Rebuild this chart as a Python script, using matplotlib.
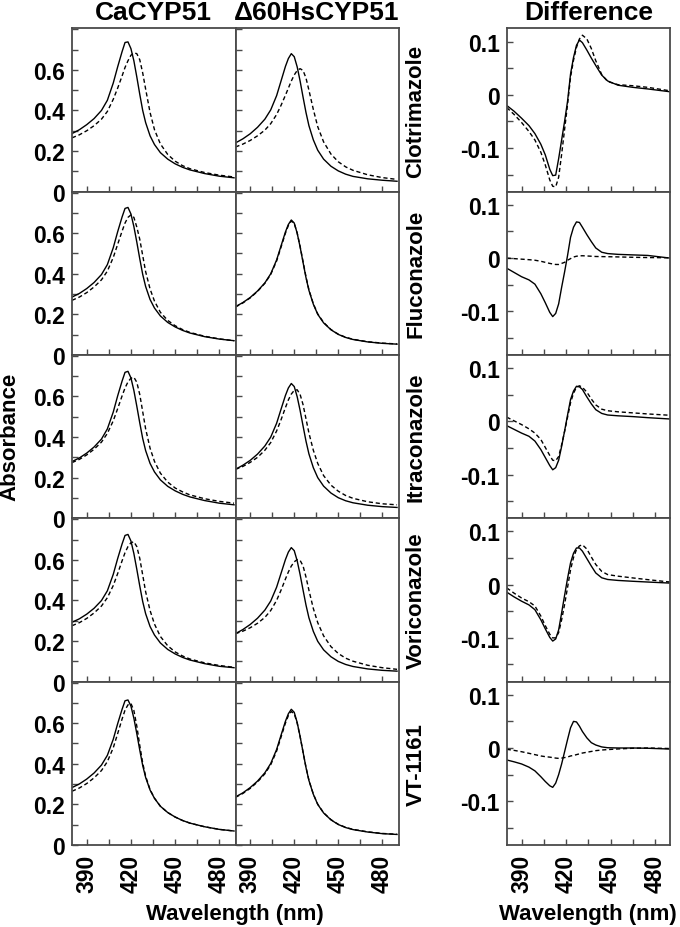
import matplotlib
matplotlib.use('Agg')
import matplotlib.pyplot as plt
from matplotlib.ticker import MultipleLocator

plt.rcParams['font.family'] = ['Liberation Sans', 'DejaVu Sans']
plt.rcParams['font.weight'] = 'bold'
plt.rcParams['axes.unicode_minus'] = False

azole = ['Clotrimazole', 'Fluconazole', 'Itraconazole', 'Voriconazole', 'VT-1161']
kolumny = ['CaCYP51', '\u039460HsCYP51', 'Difference']

# widma absorpcji (nm)
wl = [380, 385, 390, 395, 400, 404, 408, 411, 414, 416, 418, 420, 422, 424,
      426, 428, 430, 433, 436, 440, 445, 450, 455, 460, 470, 480, 490]

# CaCYP51 bez azolu (linia ciagla)
ca_free = [
    [0.286, 0.305, 0.33, 0.36, 0.40, 0.45, 0.535, 0.615, 0.69, 0.735, 0.738, 0.705, 0.645, 0.565, 0.48, 0.40, 0.34, 0.275, 0.232, 0.192, 0.16, 0.137, 0.12, 0.107, 0.089, 0.076, 0.068],
    [0.285, 0.303, 0.327, 0.357, 0.396, 0.445, 0.528, 0.607, 0.68, 0.722, 0.727, 0.695, 0.633, 0.556, 0.474, 0.397, 0.337, 0.273, 0.231, 0.192, 0.16, 0.138, 0.121, 0.108, 0.09, 0.078, 0.07],
    [0.279, 0.297, 0.321, 0.351, 0.39, 0.44, 0.523, 0.603, 0.676, 0.719, 0.724, 0.692, 0.63, 0.552, 0.47, 0.393, 0.333, 0.27, 0.228, 0.189, 0.157, 0.135, 0.118, 0.105, 0.087, 0.074, 0.066],
    [0.292, 0.309, 0.332, 0.361, 0.399, 0.447, 0.528, 0.606, 0.678, 0.72, 0.725, 0.693, 0.631, 0.553, 0.471, 0.394, 0.334, 0.271, 0.229, 0.19, 0.158, 0.136, 0.119, 0.106, 0.088, 0.075, 0.068],
    [0.282, 0.3, 0.324, 0.354, 0.393, 0.441, 0.52, 0.597, 0.668, 0.71, 0.714, 0.684, 0.624, 0.548, 0.467, 0.391, 0.332, 0.27, 0.229, 0.19, 0.159, 0.137, 0.12, 0.107, 0.089, 0.076, 0.068],
]
# CaCYP51 z azolem (linia przerywana)
ca_bound = [
    [0.265, 0.28, 0.30, 0.325, 0.357, 0.395, 0.455, 0.51, 0.57, 0.612, 0.645, 0.672, 0.684, 0.68, 0.65, 0.585, 0.505, 0.39, 0.305, 0.235, 0.183, 0.15, 0.128, 0.113, 0.094, 0.081, 0.072],
    [0.269, 0.285, 0.307, 0.335, 0.37, 0.413, 0.48, 0.545, 0.61, 0.65, 0.678, 0.69, 0.678, 0.63, 0.57, 0.49, 0.41, 0.325, 0.265, 0.21, 0.17, 0.144, 0.125, 0.111, 0.092, 0.079, 0.07],
    [0.274, 0.29, 0.312, 0.34, 0.375, 0.418, 0.48, 0.54, 0.603, 0.642, 0.672, 0.69, 0.695, 0.67, 0.61, 0.525, 0.44, 0.345, 0.28, 0.222, 0.178, 0.149, 0.13, 0.115, 0.096, 0.083, 0.074],
    [0.275, 0.29, 0.311, 0.338, 0.372, 0.413, 0.473, 0.532, 0.595, 0.635, 0.665, 0.684, 0.689, 0.665, 0.607, 0.525, 0.442, 0.35, 0.283, 0.222, 0.176, 0.146, 0.126, 0.111, 0.092, 0.079, 0.07],
    [0.264, 0.28, 0.302, 0.33, 0.366, 0.41, 0.478, 0.548, 0.62, 0.664, 0.69, 0.697, 0.662, 0.585, 0.49, 0.403, 0.338, 0.272, 0.23, 0.19, 0.159, 0.137, 0.12, 0.107, 0.089, 0.076, 0.068],
]
# d60HsCYP51 bez azolu
hs_free = [
    [0.24, 0.26, 0.285, 0.317, 0.357, 0.403, 0.473, 0.545, 0.617, 0.656, 0.68, 0.665, 0.615, 0.545, 0.466, 0.39, 0.325, 0.255, 0.204, 0.16, 0.125, 0.102, 0.086, 0.075, 0.063, 0.056, 0.051],
    [0.238, 0.258, 0.283, 0.315, 0.355, 0.40, 0.468, 0.537, 0.606, 0.643, 0.665, 0.65, 0.60, 0.532, 0.456, 0.381, 0.318, 0.25, 0.2, 0.158, 0.124, 0.101, 0.086, 0.076, 0.064, 0.057, 0.053],
    [0.241, 0.261, 0.285, 0.316, 0.356, 0.40, 0.468, 0.537, 0.605, 0.642, 0.664, 0.649, 0.599, 0.531, 0.455, 0.38, 0.317, 0.249, 0.2, 0.158, 0.124, 0.101, 0.086, 0.076, 0.064, 0.057, 0.053],
    [0.236, 0.256, 0.281, 0.312, 0.352, 0.397, 0.465, 0.533, 0.601, 0.638, 0.66, 0.645, 0.595, 0.527, 0.451, 0.377, 0.314, 0.247, 0.198, 0.156, 0.122, 0.099, 0.084, 0.074, 0.062, 0.055, 0.051],
    [0.236, 0.256, 0.282, 0.314, 0.355, 0.401, 0.47, 0.54, 0.609, 0.646, 0.668, 0.653, 0.603, 0.534, 0.457, 0.381, 0.317, 0.249, 0.199, 0.157, 0.123, 0.1, 0.085, 0.075, 0.063, 0.055, 0.051],
]
# d60HsCYP51 z azolem
hs_bound = [
    [0.22, 0.234, 0.252, 0.275, 0.303, 0.335, 0.38, 0.425, 0.475, 0.51, 0.545, 0.575, 0.597, 0.606, 0.597, 0.56, 0.5, 0.405, 0.32, 0.245, 0.185, 0.147, 0.122, 0.105, 0.083, 0.069, 0.06],
    [0.236, 0.256, 0.281, 0.313, 0.353, 0.397, 0.463, 0.531, 0.6, 0.638, 0.66, 0.648, 0.601, 0.535, 0.46, 0.385, 0.321, 0.252, 0.202, 0.16, 0.125, 0.102, 0.087, 0.077, 0.065, 0.058, 0.054],
    [0.241, 0.255, 0.275, 0.30, 0.335, 0.373, 0.43, 0.485, 0.545, 0.583, 0.612, 0.63, 0.633, 0.61, 0.56, 0.49, 0.42, 0.335, 0.27, 0.21, 0.163, 0.133, 0.112, 0.098, 0.081, 0.071, 0.066],
    [0.236, 0.248, 0.265, 0.287, 0.316, 0.35, 0.40, 0.45, 0.505, 0.54, 0.569, 0.59, 0.601, 0.597, 0.57, 0.515, 0.45, 0.36, 0.29, 0.225, 0.172, 0.138, 0.115, 0.1, 0.08, 0.068, 0.06],
    [0.234, 0.253, 0.278, 0.31, 0.35, 0.395, 0.462, 0.531, 0.6, 0.637, 0.657, 0.646, 0.6, 0.533, 0.457, 0.382, 0.318, 0.25, 0.2, 0.158, 0.124, 0.101, 0.086, 0.076, 0.064, 0.056, 0.052],
]

# widma roznicowe
wl_roz = [380, 385, 390, 395, 399, 403, 406, 409, 411, 413, 415, 417, 419, 421,
          423, 425, 427, 429, 431, 434, 437, 440, 444, 448, 455, 465, 475, 490]
roz_ca = [
    [-0.02, -0.031, -0.044, -0.058, -0.073, -0.093, -0.113, -0.14, -0.152, -0.151, -0.12, -0.085, -0.05, -0.012, 0.039, 0.07, 0.093, 0.103, 0.098, 0.084, 0.069, 0.055, 0.037, 0.026, 0.018, 0.014, 0.011, 0.0057],
    [-0.019, -0.027, -0.035, -0.041, -0.049, -0.067, -0.084, -0.102, -0.11, -0.104, -0.086, -0.055, -0.026, 0.005, 0.039, 0.058, 0.068, 0.067, 0.058, 0.044, 0.031, 0.019, 0.011, 0.0085, 0.007, 0.006, 0.005, 0.0],
    [-0.008, -0.015, -0.022, -0.028, -0.037, -0.053, -0.068, -0.083, -0.091, -0.087, -0.073, -0.047, -0.018, 0.012, 0.041, 0.057, 0.066, 0.065, 0.06, 0.046, 0.033, 0.022, 0.015, 0.012, 0.0105, 0.009, 0.007, 0.0045],
    [-0.014, -0.023, -0.031, -0.038, -0.047, -0.066, -0.083, -0.099, -0.106, -0.102, -0.085, -0.053, -0.02, 0.012, 0.041, 0.059, 0.069, 0.069, 0.063, 0.049, 0.035, 0.022, 0.013, 0.0098, 0.008, 0.0064, 0.005, 0.003],
    [-0.0225, -0.026, -0.03, -0.036, -0.043, -0.054, -0.063, -0.071, -0.074, -0.066, -0.05, -0.03, -0.007, 0.016, 0.038, 0.05, 0.049, 0.041, 0.031, 0.019, 0.01, 0.0056, 0.002, 0.0005, 0.0, 0.0, -0.0005, -0.002],
]
roz_hs = [
    [-0.024, -0.037, -0.052, -0.069, -0.085, -0.108, -0.132, -0.16, -0.172, -0.173, -0.155, -0.112, -0.065, -0.018, 0.033, 0.065, 0.089, 0.105, 0.112, 0.105, 0.087, 0.064, 0.038, 0.025, 0.019, 0.017, 0.014, 0.0075],
    [0.0, -0.001, -0.002, -0.003, -0.004, -0.006, -0.008, -0.01, -0.011, -0.012, -0.012, -0.01, -0.008, -0.004, -0.001, 0.002, 0.0035, 0.0042, 0.0044, 0.004, 0.0035, 0.003, 0.0028, 0.0026, 0.0022, 0.0015, 0.001, 0.0006],
    [0.008, 0.001, -0.006, -0.014, -0.022, -0.034, -0.049, -0.064, -0.073, -0.074, -0.066, -0.044, -0.019, 0.008, 0.035, 0.053, 0.064, 0.067, 0.064, 0.055, 0.042, 0.031, 0.023, 0.02, 0.018, 0.016, 0.014, 0.0115],
    [-0.006, -0.016, -0.025, -0.032, -0.04, -0.059, -0.077, -0.093, -0.1, -0.1, -0.09, -0.066, -0.037, -0.005, 0.028, 0.051, 0.066, 0.073, 0.075, 0.067, 0.052, 0.038, 0.025, 0.019, 0.016, 0.0127, 0.0095, 0.005],
    [-0.0025, -0.0045, -0.007, -0.01, -0.0125, -0.015, -0.0163, -0.0172, -0.018, -0.019, -0.0195, -0.019, -0.018, -0.017, -0.015, -0.014, -0.0125, -0.011, -0.0095, -0.008, -0.0065, -0.005, -0.0038, -0.003, -0.0018, -0.0005, 0.0, -0.001],
]

W, H = 680, 928
fig = plt.figure(figsize=(W / 100, H / 100), dpi=100)

top = 29.3
wys = 163.3
kol_x = [(72, 235.5), (235.5, 398.5), (506.7, 670)]
szary = '#4a4a4a'
przer = (0, (3, 2))


def ustaw(ax, dol):
    for s in ax.spines.values():
        s.set_color(szary)
        s.set_linewidth(1.3)
    ax.tick_params(which='both', direction='in', length=4, width=1,
                   color=szary, labelsize=16.5, pad=5)
    ax.set_xticks([390, 420, 450, 480])
    ax.xaxis.set_minor_locator(MultipleLocator(15))
    if dol:
        ax.set_xticklabels(['390', '420', '450', '480'], rotation=90,
                           fontweight='bold')
        ax.tick_params(axis='x', pad=6.5)
    else:
        ax.set_xticklabels([])


for i in range(5):
    dolna = (i == 4)
    y0 = H - (top + wys * (i + 1))
    osie = []
    for k, (x0, x1) in enumerate(kol_x):
        ax = fig.add_axes([x0 / W, y0 / H, (x1 - x0) / W, wys / H])
        osie.append(ax)

    a1, a2, a3 = osie
    a1.plot(wl, ca_free[i], color='black', lw=1.0)
    a1.plot(wl, ca_bound[i], color='black', lw=1.0, linestyle=przer)
    a2.plot(wl, hs_free[i], color='black', lw=1.0)
    a2.plot(wl, hs_bound[i], color='black', lw=1.0, linestyle=przer)
    a3.plot(wl_roz, roz_ca[i], color='black', lw=1.0)
    a3.plot(wl_roz, roz_hs[i], color='black', lw=1.0, linestyle=przer)

    for ax in (a1, a2):
        ax.set_xlim(380, 491)
        ax.set_ylim(0, 0.805)
        ustaw(ax, dolna)
        ax.set_yticks([0, 0.2, 0.4, 0.6])
        ax.yaxis.set_minor_locator(MultipleLocator(0.1))
    a1.set_yticklabels(['0', '0.2', '0.4', '0.6'], fontweight='bold')
    a2.set_yticklabels([])

    a3.set_xlim(380, 490)
    a3.set_ylim(-0.182, 0.125)
    ustaw(a3, dolna)
    a3.set_yticks([-0.1, 0, 0.1])
    a3.yaxis.set_minor_locator(MultipleLocator(0.05))
    a3.set_yticklabels(['-0.1', '0', '0.1'], fontweight='bold')

    fig.text(416 / W, 1 - (top + wys * (i + 0.5)) / H, azole[i], rotation=90,
             ha='center', va='center', fontsize=16, fontweight='bold')

    if i == 0:
        for ax, t in zip(osie, kolumny):
            ax.set_title(t, fontsize=19, fontweight='bold', pad=7)

fig.text(10 / W, 1 - 437 / H, 'Absorbance', rotation=90, ha='center',
         va='center', fontsize=16, fontweight='bold')
fig.text(235 / W, 1 - 915 / H, 'Wavelength (nm)', ha='center', va='center',
         fontsize=16, fontweight='bold')
fig.text(588 / W, 1 - 915 / H, 'Wavelength (nm)', ha='center', va='center',
         fontsize=16, fontweight='bold')

fig.savefig('out.png', dpi=100)
